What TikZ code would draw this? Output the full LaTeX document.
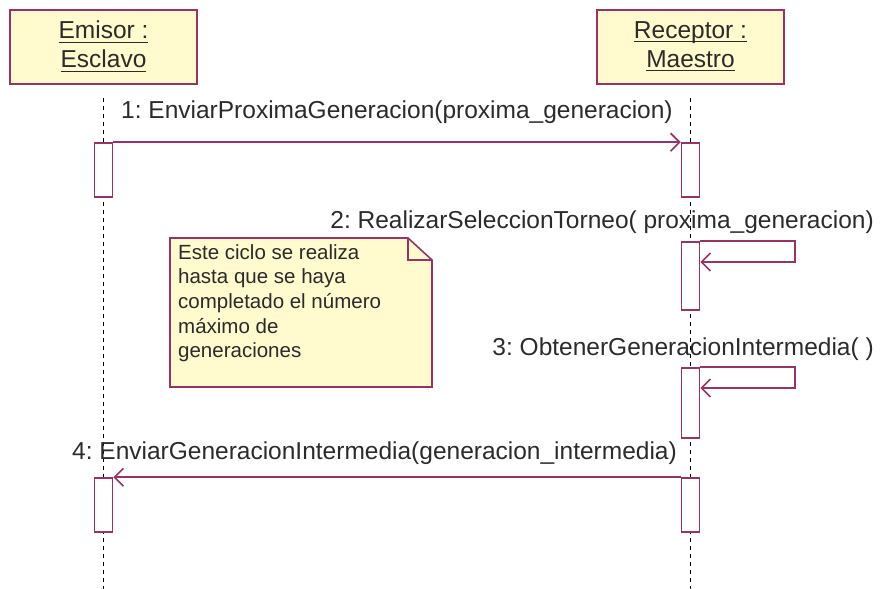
\documentclass[tikz,border=0pt]{standalone}
\usepackage{amsmath}
\usepackage{fontspec}
\setmainfont{Liberation Sans}
\usetikzlibrary{arrows.meta}
\definecolor{umlline}{HTML}{993366}
\definecolor{umlfill}{HTML}{FFFBCF}
\definecolor{umltext}{HTML}{2B2B2B}
\frenchspacing

\begin{document}
\begin{tikzpicture}[x=1pt,y=-1pt,
	obj/.style={draw=umlline,fill=umlfill,line width=1.6pt,minimum width=187pt,minimum height=74pt,
		align=center,text=umltext,font=\fontsize{24.5}{29}\selectfont},
	life/.style={line width=1.8pt,dash pattern=on 4pt off 4pt},
	act/.style={draw=umlline,fill=white,line width=1.6pt,minimum width=18pt,inner sep=0pt},
	msg/.style={draw=umlline,line width=1.6pt,-{Straight Barb[length=9pt,width=18pt]}},
	lbl/.style={text=umltext,font=\fontsize{24.5}{29}\selectfont,inner sep=0pt}]
			\useasboundingbox (0,0) rectangle (887,589);
				% the two objects
				\node[obj] (em) at (103.5,47) {\underline{\smash[b]{Emisor :}}\\\underline{\smash[b]{Esclavo}}};
				\node[obj] (re) at (690.5,47) {\underline{\smash[b]{Receptor :}}\\\underline{\smash[b]{Maestro}}};
				\coordinate (emend) at (103.5,589);
				\coordinate (reend) at (690.5,589);
				\draw[life] ([yshift=-13pt]em.south) -- (emend); % lifelines
				\draw[life] ([yshift=-13pt]re.south) -- (reend);
				% activations
				\node[act,minimum height=54pt] (a1) at (103.5,170) {};
				\node[act,minimum height=54pt] (b1) at (690.5,170) {};
				\node[act,minimum height=68pt] (b2) at (690.5,276) {};
				\node[act,minimum height=70pt] (b3) at (690.5,403) {};
				\node[act,minimum height=54pt] (b4) at (690.5,505) {};
				\node[act,minimum height=54pt] (a4) at (103.5,505) {};
				% messages
				\draw[msg] (a1.north east) -- (b1.north west);
				\node[lbl,anchor=base] (m1) at (397,118) {1: EnviarProximaGeneracion(proxima\_generacion)};
				\coordinate (s2) at (795,262);
				\draw[msg] (b2.north east) -- (b2.north east -| s2) -- (s2) -- (b2.east |- s2);
				\node[lbl,anchor=base east] (m2) at (874,228) {2: RealizarSeleccionTorneo( proxima\_generacion)};
				\coordinate (s3) at (795,388);
				\draw[msg] (b3.north east) -- (b3.north east -| s3) -- (s3) -- (b3.east |- s3);
				\node[lbl,anchor=base east] (m3) at (874,355) {3: ObtenerGeneracionIntermedia( )};
				\draw[msg] (b4.north west) -- (a4.north east);
				\node[lbl,anchor=base west] (m4) at (72,459) {4: EnviarGeneracionIntermedia(generacion\_intermedia)};
				% note
				\draw[draw=umlline,fill=umlfill,line width=1.6pt] (170,238) -- (408,238) -- (432,260) -- (432,387) -- (170,387) -- cycle;
				\draw[umlline,line width=1.6pt] (408,238) -- (408,260) -- (432,260);
				\node[anchor=north west,align=left,inner sep=0pt,text=umltext,font=\fontsize{20.5}{24.7}\selectfont] (nt) at (178,244)
					{Este ciclo se realiza\\hasta que se haya\\completado el número\\máximo de\\generaciones};
\end{tikzpicture}
\end{document}
